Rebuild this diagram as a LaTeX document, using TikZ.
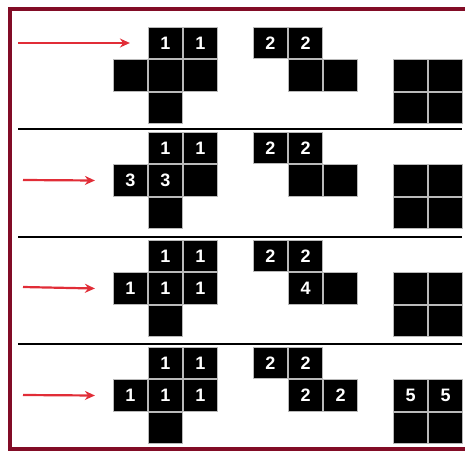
\documentclass[tikz,border=0pt]{standalone}
\usepackage{fontspec}
\setmainfont{Liberation Sans}
\usetikzlibrary{arrows.meta}

\definecolor{framered}{RGB}{130,12,38}
\definecolor{arrowred}{RGB}{225,45,55}

\begin{document}
\begin{tikzpicture}[x=1pt,y=-1pt,
    cell/.style={draw=gray!55, line width=1.2pt, fill=black, text=white,
        font=\bfseries\fontsize{18}{18}\selectfont,
        minimum width=34pt, minimum height=31.5pt, inner sep=0pt},
    pointer/.style={draw=arrowred, line width=2.2pt, -{Stealth[length=10pt,width=9pt]}}]

\useasboundingbox (0,0) rectangle (465,452);

% Frame
\draw[framered, line width=3.5pt] (465,9) -- (10,9) -- (10,449) -- (465,449);

% Separators
\draw[line width=1.8pt] (18,129) -- (462,129);
\draw[line width=1.8pt] (18,237) -- (462,237);
\draw[line width=1.8pt] (18,344) -- (462,344);

% Cells (column/row/number), one panel per line
\foreach \c/\r/\t in {1/0/1,2/0/1,0/1/{},1/1/{},2/1/{},1/2/{},4/0/2,5/0/2,5/1/{},6/1/{},8/1/{},9/1/{},8/2/{},9/2/{}}
    \node[cell] (a\c\r) at ({130.5+35*\c},{43+32.5*\r}) {\t};
\foreach \c/\r/\t in {1/0/1,2/0/1,0/1/3,1/1/3,2/1/{},1/2/{},4/0/2,5/0/2,5/1/{},6/1/{},8/1/{},9/1/{},8/2/{},9/2/{}}
    \node[cell] (b\c\r) at ({130.5+35*\c},{148+32.5*\r}) {\t};
\foreach \c/\r/\t in {1/0/1,2/0/1,0/1/1,1/1/1,2/1/1,1/2/{},4/0/2,5/0/2,5/1/4,6/1/{},8/1/{},9/1/{},8/2/{},9/2/{}}
    \node[cell] (c\c\r) at ({130.5+35*\c},{256+32.5*\r}) {\t};
\foreach \c/\r/\t in {1/0/1,2/0/1,0/1/1,1/1/1,2/1/1,1/2/{},4/0/2,5/0/2,5/1/2,6/1/2,8/1/5,9/1/5,8/2/{},9/2/{}}
    \node[cell] (d\c\r) at ({130.5+35*\c},{363+32.5*\r}) {\t};

% Arrows
\coordinate (s1) at (18,43);
\coordinate (s2) at (23,180);
\coordinate (s3) at (23,287);
\coordinate (s4) at (23,395);
\draw[pointer] (s1) -- ([xshift=-18pt]a10.west);
\draw[pointer] (s2) -- ([xshift=-18pt]b01.west);
\draw[pointer] (s3) -- ([xshift=-18pt]c01.west);
\draw[pointer] (s4) -- ([xshift=-18pt]d01.west);

\end{tikzpicture}
\end{document}
